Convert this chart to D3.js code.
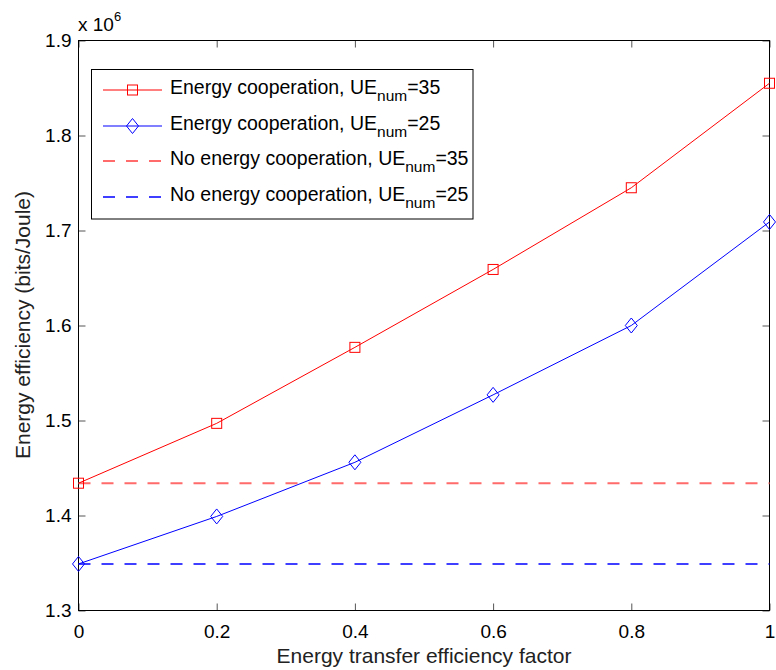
<!DOCTYPE html>
<html>
<head>
<meta charset="utf-8">
<script src="https://cdn.jsdelivr.net/npm/d3@7"></script>
<style>
  html, body { margin: 0; padding: 0; background: #fff; }
  svg { display: block; font-family: "Liberation Sans", Arial, Helvetica, sans-serif; }
</style>
</head>
<body>
<svg id="chart" width="776" height="670"></svg>
<script>
// Transfer efficiency factor (x) and energy efficiency values (in units of 1e6 bits/Joule)
const factors = [0, 0.2, 0.4, 0.6, 0.8, 1.0];
const coop35 = [1.434, 1.497, 1.577, 1.659, 1.745, 1.855];
const coop25 = [1.349, 1.399, 1.456, 1.527, 1.600, 1.709];
const noCoop35 = 1.434;
const noCoop25 = 1.349;
const xTicks = [0, 0.2, 0.4, 0.6, 0.8, 1];
const yTicks = [1.3, 1.4, 1.5, 1.6, 1.7, 1.8, 1.9];
const legendLabels = [
  { pre: "Energy cooperation, UE", sub: "num", post: "=35" },
  { pre: "Energy cooperation, UE", sub: "num", post: "=25" },
  { pre: "No energy cooperation, UE", sub: "num", post: "=35" },
  { pre: "No energy cooperation, UE", sub: "num", post: "=25" }
];

const svg = d3.select("#chart");
const plotL = 78.5, plotR = 769.5, plotT = 40.5, plotB = 610.5;
const fs = 19;

const x = d3.scaleLinear().domain([0, 1]).range([plotL, plotR]);
const y = d3.scaleLinear().domain([1.3, 1.9]).range([plotB, plotT]);

const RED = "#ff0000", BLUE = "#0000ff";
const tickLen = 7;

// Axes with inward ticks on all four sides
const gx = svg.append("g").attr("transform", `translate(0,${plotB})`)
  .call(d3.axisBottom(x).tickValues(xTicks).tickSizeInner(-tickLen).tickSizeOuter(0)
    .tickPadding(14).tickFormat(d3.format("~g")));
const gxTop = svg.append("g").attr("transform", `translate(0,${plotT})`)
  .call(d3.axisTop(x).tickValues(xTicks).tickSizeInner(-tickLen).tickSizeOuter(0).tickFormat(""));
const gy = svg.append("g").attr("transform", `translate(${plotL},0)`)
  .call(d3.axisLeft(y).tickValues(yTicks).tickSizeInner(-tickLen).tickSizeOuter(0)
    .tickPadding(7).tickFormat(d3.format(".1f")));
const gyRight = svg.append("g").attr("transform", `translate(${plotR},0)`)
  .call(d3.axisRight(y).tickValues(yTicks).tickSizeInner(-tickLen).tickSizeOuter(0).tickFormat(""));

[gx, gxTop, gy, gyRight].forEach(g => {
  g.select(".domain").remove();
  g.selectAll(".tick line").attr("stroke", "#555");
  g.selectAll(".tick text").attr("font-size", fs).attr("fill", "#000")
    .attr("font-family", "Liberation Sans, Arial, sans-serif");
});

// Plot frame
svg.append("rect").attr("x", plotL).attr("y", plotT)
  .attr("width", plotR - plotL).attr("height", plotB - plotT)
  .attr("fill", "none").attr("stroke", "#000").attr("stroke-width", 1);

// Baseline (no cooperation) dashed lines
svg.append("line").attr("x1", x(0)).attr("x2", x(1)).attr("y1", y(noCoop35)).attr("y2", y(noCoop35))
  .attr("stroke", "#ff6a6a").attr("stroke-width", 2).attr("stroke-dasharray", "12,11");
svg.append("line").attr("x1", x(0)).attr("x2", x(1)).attr("y1", y(noCoop25)).attr("y2", y(noCoop25))
  .attr("stroke", BLUE).attr("stroke-width", 1.5).attr("stroke-dasharray", "12,11");

// Cooperation curves
const line = d3.line().x(d => x(d[0])).y(d => y(d[1]));
const pts35 = factors.map((f, i) => [f, coop35[i]]);
const pts25 = factors.map((f, i) => [f, coop25[i]]);

svg.append("path").datum(pts35).attr("d", line).attr("fill", "none").attr("stroke", RED).attr("stroke-width", 1);
svg.append("path").datum(pts25).attr("d", line).attr("fill", "none").attr("stroke", BLUE).attr("stroke-width", 1);

function square(g, cx, cy) {
  g.append("rect").attr("x", cx - 5).attr("y", cy - 5).attr("width", 10).attr("height", 10)
    .attr("fill", "none").attr("stroke", RED).attr("stroke-width", 1);
}
function diamond(g, cx, cy) {
  g.append("path").attr("d", `M${cx},${cy - 7.5}L${cx + 6},${cy}L${cx},${cy + 7.5}L${cx - 6},${cy}Z`)
    .attr("fill", "none").attr("stroke", BLUE).attr("stroke-width", 1);
}
const mk = svg.append("g");
pts35.forEach(p => square(mk, x(p[0]), y(p[1])));
pts25.forEach(p => diamond(mk, x(p[0]), y(p[1])));

// Exponent label
const expo = svg.append("text").attr("x", 78).attr("y", 31).attr("font-size", fs).attr("fill", "#000");
expo.append("tspan").text("x 10");
expo.append("tspan").attr("font-size", 13).attr("dy", -10).text("6");

// Axis titles
svg.append("text").attr("x", 424).attr("y", 662.5).attr("text-anchor", "middle")
  .attr("font-size", 21).attr("fill", "#222").text("Energy transfer efficiency factor");
svg.append("text").attr("transform", "translate(30,325) rotate(-90)").attr("text-anchor", "middle")
  .attr("font-size", 21).attr("fill", "#222").text("Energy efficiency (bits/Joule)");

// Legend
const lfs = 19.5;
const lg = svg.append("g");
lg.append("rect").attr("x", 91.5).attr("y", 69.5).attr("width", 381.5).attr("height", 149.5)
  .attr("fill", "#fff").attr("stroke", "#000").attr("stroke-width", 1);
const rowY = [90, 126, 161, 197];
const styles = [
  { color: RED, dash: null, width: 1, marker: square },
  { color: BLUE, dash: null, width: 1, marker: diamond },
  { color: "#ff6a6a", dash: "12,11", width: 2, marker: null },
  { color: BLUE, dash: "12,11", width: 1.5, marker: null }
];
legendLabels.forEach((lab, i) => {
  const yy = rowY[i], s = styles[i];
  lg.append("line").attr("x1", 103).attr("x2", 162).attr("y1", yy).attr("y2", yy)
    .attr("stroke", s.color).attr("stroke-width", s.width)
    .attr("stroke-dasharray", s.dash);
  if (s.marker) s.marker(lg, 132.5, yy);
  const t = lg.append("text").attr("x", 170).attr("y", yy + 3.5).attr("font-size", lfs).attr("fill", "#000");
  t.append("tspan").text(lab.pre);
  t.append("tspan").attr("font-size", 15.5).attr("dy", 7).text(lab.sub);
  t.append("tspan").attr("dy", -7).text(lab.post);
});
</script>
</body>
</html>
